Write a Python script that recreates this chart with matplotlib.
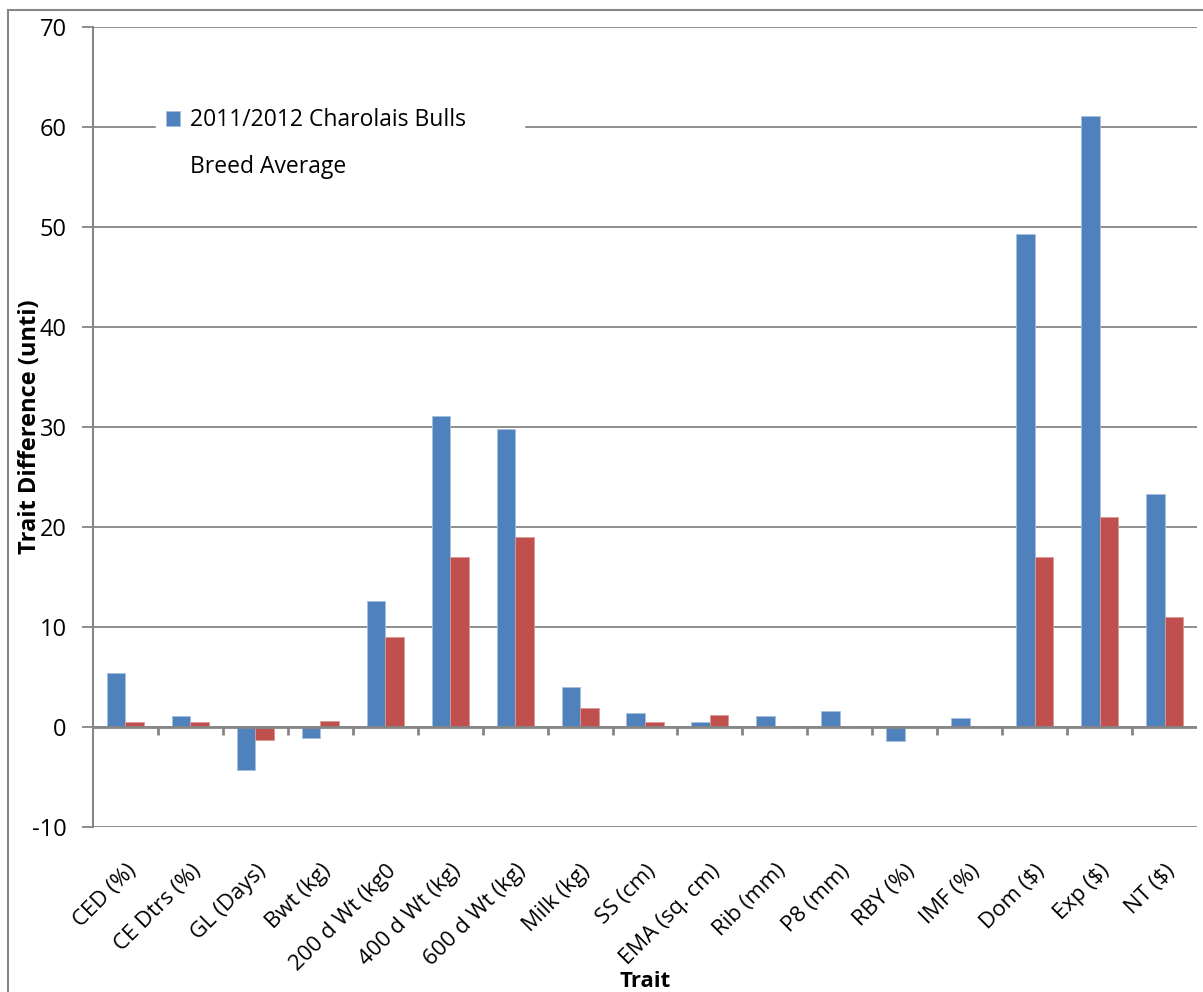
import numpy as np
import matplotlib
matplotlib.use("Agg")
import matplotlib.pyplot as plt
from matplotlib.patches import Rectangle

traits = ['CED (%)', 'CE Dtrs (%)', 'GL (Days)', 'Bwt (kg)', '200 d Wt (kg0',
          '400 d Wt (kg)', '600 d Wt (kg)', 'Milk (kg)', 'SS (cm)', 'EMA (sq. cm)',
          'Rib (mm)', 'P8 (mm)', 'RBY (%)', 'IMF (%)', 'Dom ($)', 'Exp ($)', 'NT ($)']
bulls = [5.4, 1.1, -4.3, -1.1, 12.6, 31.1, 29.8, 4.0, 1.4, 0.5,
         1.1, 1.6, -1.4, 0.9, 49.3, 61.1, 23.3]
breed_avg = [0.5, 0.5, -1.3, 0.6, 9.0, 17.0, 19.0, 1.9, 0.5, 1.2,
             0.1, 0.1, 0.1, 0.1, 17.0, 21.0, 11.0]

plt.rcParams['font.family'] = ['Open Sans', 'DejaVu Sans']
plt.rcParams['axes.unicode_minus'] = False
grey = '#868686'
blue = '#4F81BD'
red = '#C0504D'

fig = plt.figure(figsize=(12.03, 9.92), dpi=100)
ax = fig.add_axes([93/1203, 1-827/992, 1104/1203, 800/992])

x = np.arange(len(traits))
w = 1/3.5
b1 = ax.bar(x - w/2, bulls, w, color=blue, edgecolor='#A7C0DE', linewidth=0.6,
            label='2011/2012 Charolais Bulls', zorder=3)
b2 = ax.bar(x + w/2, breed_avg, w, color=red, edgecolor='#DA9897', linewidth=0.6,
            label='Breed Average', zorder=3)

ax.set_xlim(-0.5, len(traits) - 0.5)
ax.set_ylim(-10, 70)
ax.set_yticks(np.arange(-10, 71, 10))
ax.yaxis.grid(True, color=grey, linewidth=1.3, zorder=1)
ax.axhline(0, color=grey, linewidth=2, zorder=4)
# category boundary ticks hanging below zero line
ax.vlines(x[:-1] + 0.5, 0, -0.8, color=grey, linewidth=2, zorder=4)

for s in ['top', 'right', 'bottom']:
    ax.spines[s].set_visible(False)
ax.spines['left'].set_color(grey)
ax.spines['left'].set_linewidth(1.5)
ax.tick_params(axis='y', length=8, width=1.3, color=grey, labelsize=17, pad=11)
ax.tick_params(axis='x', length=0, labelsize=16, pad=24)
ax.set_xticks(x)
ax.set_xticklabels(traits, rotation=45, ha='right', rotation_mode='anchor')

ax.set_ylabel('Trait Difference (unti)', fontsize=17, fontweight='bold', labelpad=0)
ax.yaxis.set_label_coords(-0.046, 0.5)
ax.set_xlabel('Trait', fontsize=16, fontweight='bold')
ax.xaxis.set_label_coords(0.5, -0.18)

leg = ax.legend(loc='upper left', bbox_to_anchor=(0.047, 0.874, 0.354, 0.05),
                mode='expand', frameon=True, framealpha=1, edgecolor='white',
                fancybox=False, fontsize=16.5, labelspacing=1.0,
                handlelength=0.65, handleheight=0.65, handletextpad=0.4)
leg.legend_handles[1].set_visible(False)
leg.set_zorder(5)

# outer chart border
fig.patches.append(Rectangle((8/1203, -0.05), 1.1, 1.05 - 10/992,
                             transform=fig.transFigure, fill=False,
                             edgecolor=grey, linewidth=1.5))

fig.savefig('out.png', dpi=100)
